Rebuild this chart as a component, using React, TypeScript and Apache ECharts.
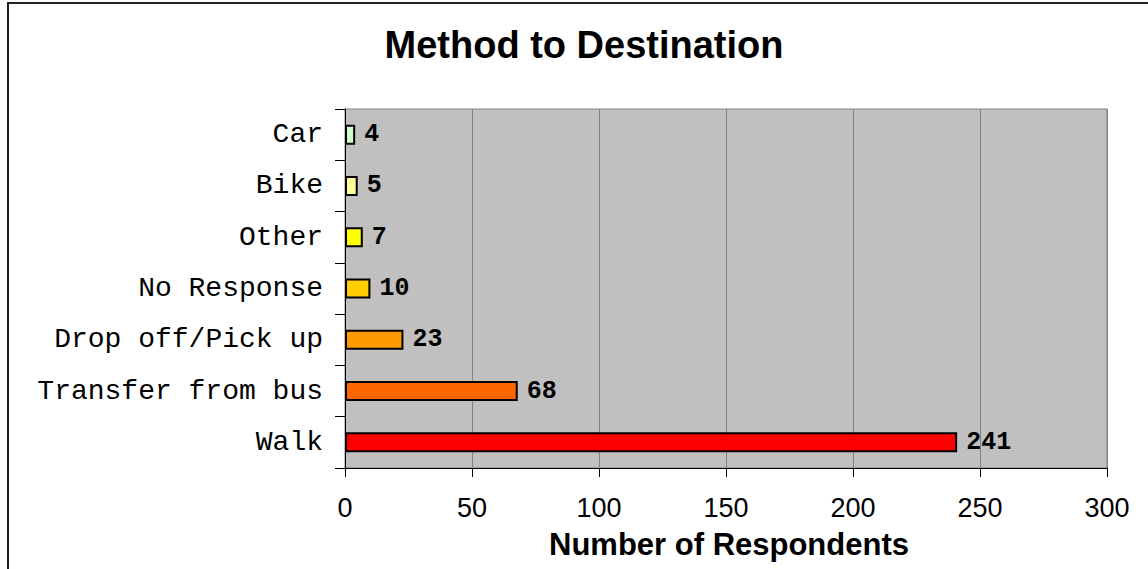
import React, { useEffect, useRef } from "react";
import * as echarts from "echarts";

const categories = ["Car", "Bike", "Other", "No Response", "Drop off/Pick up", "Transfer from bus", "Walk"];
const values = [4, 5, 7, 10, 23, 68, 241];
const barColors = ["#CCFFCC", "#FFFF99", "#FFFF00", "#FFCC00", "#FF9900", "#FF6600", "#FF0000"];
const xTicks = [0, 50, 100, 150, 200, 250, 300];

export default function App() {
  const ref = useRef<HTMLDivElement>(null);
  useEffect(() => {
    const chart = echarts.init(ref.current!, null, { renderer: "svg" });
    chart.setOption({
      animation: false,
      backgroundColor: "#FFFFFF",
      title: {
        text: "Method to Destination",
        left: 579,
        top: 21,
        textAlign: "center",
        textStyle: { fontFamily: "Liberation Sans", fontWeight: "bold", fontSize: 38, color: "#000" },
      },
      graphic: [
        {
          type: "rect",
          shape: { x: 8, y: 3, width: 1200, height: 620 },
          style: { fill: "none", stroke: "#222", lineWidth: 2 },
          silent: true,
        },
      ],
      grid: {
        left: 345,
        right: 41,
        top: 109,
        bottom: 101,
        show: true,
        backgroundColor: "#C0C0C0",
        borderColor: "#808080",
        borderWidth: 1,
      },
      xAxis: {
        type: "value",
        min: xTicks[0],
        max: xTicks[xTicks.length - 1],
        interval: 50,
        name: "Number of Respondents",
        nameLocation: "middle",
        nameGap: 61,
        nameTextStyle: { fontFamily: "Liberation Sans", fontWeight: "bold", fontSize: 31, color: "#000", padding: [0, 0, 0, 6] },
        axisLine: { show: true, lineStyle: { color: "#000", width: 1 } },
        axisTick: { show: true, length: 9, lineStyle: { color: "#000" } },
        axisLabel: { fontFamily: "Liberation Sans", fontSize: 27, color: "#000", margin: 26 },
        splitLine: { show: true, lineStyle: { color: "#808080", width: 1 } },
      },
      yAxis: {
        type: "category",
        inverse: true,
        data: categories,
        axisLine: { show: true, lineStyle: { color: "#000", width: 1 } },
        axisTick: { show: true, length: 10, lineStyle: { color: "#000" } },
        axisLabel: { fontFamily: "Liberation Mono", fontSize: 28, color: "#000", margin: 22 },
        splitLine: { show: false },
      },
      series: [
        {
          type: "bar",
          barWidth: 20,
          data: values.map((v, i) => ({
            value: v,
            itemStyle: { color: barColors[i], borderColor: "#000", borderWidth: 2 },
          })),
          label: {
            show: true,
            position: "right",
            distance: 9,
            fontFamily: "Liberation Mono",
            fontWeight: "bold",
            fontSize: 25,
            color: "#000",
          },
        },
      ],
    });
    return () => chart.dispose();
  }, []);
  return (
    <div
      ref={ref}
      style={{ position: "absolute", left: 0, top: 0, width: 1148, height: 569 }}
    />
  );
}
